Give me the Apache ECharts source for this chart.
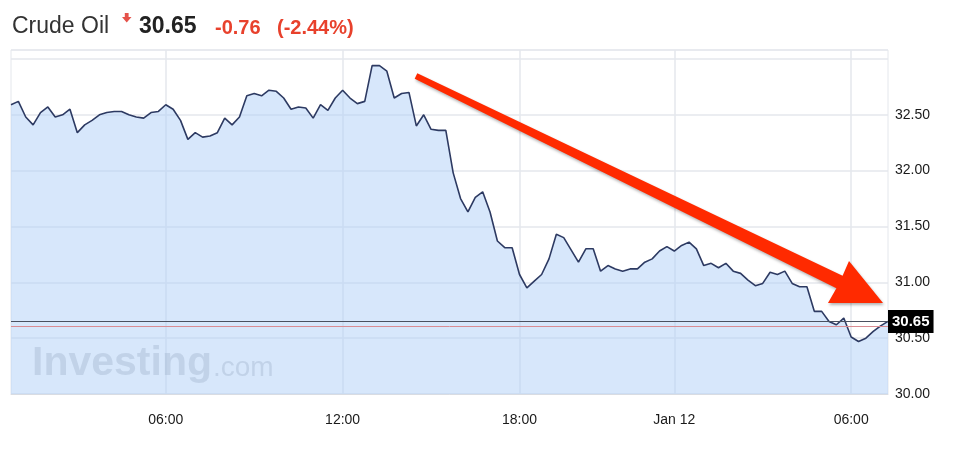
<!DOCTYPE html>
<html>
<head>
<meta charset="utf-8">
<script src="https://cdn.jsdelivr.net/npm/echarts@6/dist/echarts.min.js"></script>
<style>
  html, body { margin: 0; padding: 0; background: #fff; }
  #chart { width: 963px; height: 451px; }
</style>
</head>
<body>
<div id="chart"></div>
<script>
// 15-minute quotes, Jan 11 00:45 -> Jan 12 07:15
const times = [
  '00:45','01:00','01:15','01:30','01:45','02:00','02:15','02:30','02:45','03:00',
  '03:15','03:30','03:45','04:00','04:15','04:30','04:45','05:00','05:15','05:30',
  '05:45','06:00','06:15','06:30','06:45','07:00','07:15','07:30','07:45','08:00',
  '08:15','08:30','08:45','09:00','09:15','09:30','09:45','10:00','10:15','10:30',
  '10:45','11:00','11:15','11:30','11:45','12:00','12:15','12:30','12:45','13:00',
  '13:15','13:30','13:45','14:00','14:15','14:30','14:45','15:00','15:15','15:30',
  '15:45','16:00','16:15','16:30','16:45','17:00','17:15','17:30','17:45','18:00',
  '19:00','19:15','19:30','19:45','20:00','20:15','20:30','20:45','21:00','21:15',
  '21:30','21:45','22:00','22:15','22:30','22:45','23:00','23:15','23:30','23:45',
  '00:00','00:15','00:30','00:45','01:00','01:15','01:30','01:45','02:00','02:15',
  '02:30','02:45','03:00','03:15','03:30','03:45','04:00','04:15','04:30','04:45',
  '05:00','05:15','05:30','05:45','06:00','06:15','06:30','06:45','07:00','07:15'
];

const prices = [
  32.59, 32.62, 32.48, 32.41, 32.52, 32.57, 32.48, 32.50, 32.55, 32.34,
  32.41, 32.45, 32.50, 32.52, 32.53, 32.53, 32.50, 32.48, 32.47, 32.52,
  32.53, 32.59, 32.55, 32.45, 32.28, 32.34, 32.30, 32.31, 32.34, 32.47,
  32.41, 32.48, 32.67, 32.69, 32.67, 32.72, 32.71, 32.65, 32.55, 32.57,
  32.56, 32.47, 32.59, 32.54, 32.65, 32.72, 32.65, 32.60, 32.62, 32.94,
  32.94, 32.89, 32.65, 32.69, 32.70, 32.40, 32.50, 32.37, 32.36, 32.36,
  31.98, 31.75, 31.63, 31.76, 31.81, 31.63, 31.37, 31.31, 31.31, 31.07,
  30.95, 31.01, 31.07, 31.21, 31.43, 31.40, 31.29, 31.18, 31.30, 31.30,
  31.10, 31.15, 31.12, 31.10, 31.12, 31.12, 31.18, 31.21, 31.28, 31.32,
  31.28, 31.33, 31.36, 31.30, 31.15, 31.17, 31.13, 31.17, 31.10, 31.08,
  31.02, 30.97, 30.99, 31.09, 31.07, 31.10, 30.99, 30.96, 30.96, 30.74,
  30.74, 30.65, 30.62, 30.68, 30.51, 30.47, 30.50, 30.56, 30.61, 30.65
];

// x-axis ticks: category index + shown text
const tickIndex = [21, 45, 69, 90, 114];
const tickText = ['06:00', '12:00', '18:00', 'Jan 12', '06:00'];

const lastPrice = 30.65;
const refLevel = 30.61;
const change = '-0.76';
const changePct = '(-2.44%)';

const FONT = '"Liberation Sans", Arial, Helvetica, sans-serif';
const isTick = (i) => tickIndex.indexOf(i) !== -1;

const chart = echarts.init(document.getElementById('chart'));
chart.setOption({
  backgroundColor: '#fff',
  animation: false,
  textStyle: { fontFamily: FONT },
  grid: {
    left: 11,
    right: 75,
    top: 50,
    bottom: 57,
    show: true,
    borderColor: '#e4e7ec',
    borderWidth: 1
  },
  xAxis: {
    type: 'category',
    data: times,
    boundaryGap: false,
    axisLine: { lineStyle: { color: '#d9dce2' } },
    axisTick: { show: false },
    axisLabel: {
      interval: (i) => isTick(i),
      formatter: (v, i) => tickText[tickIndex.indexOf(i)],
      color: '#1a1a1a',
      fontSize: 14,
      margin: 19
    },
    splitLine: {
      show: true,
      interval: (i) => isTick(i),
      lineStyle: { color: '#e4e7ec', width: 1.5 }
    }
  },
  yAxis: {
    type: 'value',
    position: 'right',
    min: 30,
    max: 33.08,
    interval: 0.5,
    axisLine: { show: false },
    axisTick: { show: false },
    axisLabel: {
      showMaxLabel: false,
      formatter: (v) => (v > 32.9 ? '' : v.toFixed(2)),
      color: '#1a1a1a',
      fontSize: 14,
      margin: 7
    },
    splitLine: { lineStyle: { color: '#e4e7ec', width: 1.5 } }
  },
  series: [
    {
      type: 'line',
      data: prices,
      symbol: 'none',
      lineStyle: { color: '#2d3a62', width: 1.6 },
      areaStyle: { color: 'rgba(176,208,248,0.5)', opacity: 1, origin: 'start' },
      markLine: {
        silent: true,
        symbol: 'none',
        animation: false,
        data: [
          {
            yAxis: refLevel,
            lineStyle: { color: '#d98c93', width: 1, type: 'solid' },
            label: { show: false }
          },
          {
            yAxis: lastPrice,
            lineStyle: { color: '#4a5160', width: 1.2, type: 'solid' },
            label: {
              show: true,
              position: 'end',
              distance: 0,
              formatter: lastPrice.toFixed(2),
              backgroundColor: '#000',
              color: '#fff',
              fontWeight: 'bold',
              fontSize: 15,
              padding: [4, 4, 4, 4]
            }
          }
        ]
      }
    }
  ],
  graphic: [
    // watermark
    {
      type: 'text',
      silent: true,
      z: 1,
      style: { text: 'Investing', x: 32, y: 364, verticalAlign: 'middle', font: 'bold 41px ' + FONT, fill: 'rgba(140,145,155,0.38)' }
    },
    {
      type: 'text',
      silent: true,
      z: 1,
      style: { text: '.com', x: 213, y: 368, verticalAlign: 'middle', font: '28px ' + FONT, fill: 'rgba(140,145,155,0.38)' }
    },
    // header
    {
      type: 'text',
      style: { text: 'Crude Oil', x: 12, y: 27, verticalAlign: 'middle', font: '23px ' + FONT, fill: '#333' }
    },
    {
      type: 'polygon',
      shape: { points: [[124.8, 13], [128.6, 13], [128.6, 17], [131.5, 17], [126.7, 22.5], [122, 17], [124.8, 17]] },
      style: { fill: '#e5524a' }
    },
    {
      type: 'text',
      style: { text: lastPrice.toFixed(2), x: 139, y: 27, verticalAlign: 'middle', font: 'bold 23px ' + FONT, fill: '#222' }
    },
    {
      type: 'text',
      style: { text: change, x: 215, y: 28, verticalAlign: 'middle', font: 'bold 20px ' + FONT, fill: '#e8412c' }
    },
    {
      type: 'text',
      style: { text: changePct, x: 277, y: 28, verticalAlign: 'middle', font: 'bold 20px ' + FONT, fill: '#e8412c' }
    },
    // red annotation arrow
    {
      type: 'polygon',
      z: 100,
      shape: {
        points: [
          [417.3, 73.3], [842.6, 275.7], [849, 261], [883, 303],
          [828, 303], [836.4, 288.3], [414.7, 78.7]
        ]
      },
      style: {
        fill: '#ff2a00',
        shadowBlur: 3,
        shadowColor: 'rgba(0,0,0,0.3)',
        shadowOffsetX: 1,
        shadowOffsetY: 2
      }
    }
  ]
});
</script>
</body>
</html>
